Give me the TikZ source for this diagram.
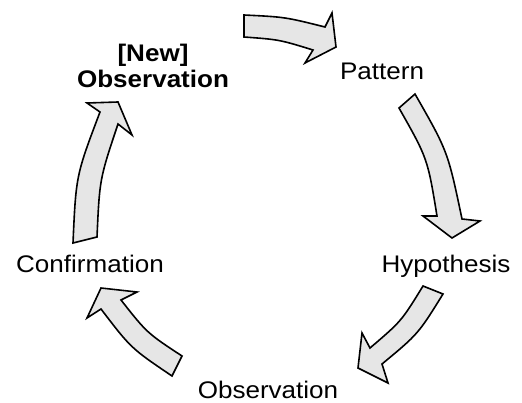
\documentclass[tikz,border=0pt]{standalone}
\usepackage{fontspec}
\usepackage{graphicx}
\setmainfont{Liberation Sans}
\definecolor{arrowfill}{HTML}{E6E6E6}
\newcommand{\widetext}[1]{\scalebox{1.085}[1]{#1}}
\begin{document}
\begin{tikzpicture}[x=1pt,y=-1pt,
  blockarrow/.style={draw=black, line width=1.6pt, fill=arrowfill, line join=miter},
  textlabel/.style={inner sep=0pt, anchor=base, font=\fontsize{24}{26}\selectfont}]
\useasboundingbox (0,0) rectangle (522,403);

% stage labels
\node[textlabel] (pattern) at (382,80) {\widetext{Pattern}};
\node[textlabel] (hypothesis) at (446,273) {\widetext{Hypothesis}};
\node[textlabel] (observation) at (268,398) {\widetext{Observation}};
\node[textlabel] (confirmation) at (90,273) {\widetext{Confirmation}};
\node[textlabel, font=\fontsize{24}{26}\selectfont\bfseries, align=center] (newobs) at (153,88)
  {\widetext{[New]}\\\widetext{Observation}};

% curved block arrows, clockwise round the cycle
\draw[blockarrow] (244,15) .. controls (285,17) .. (325,27) -- (332,13) -- (336,47)
  -- (305,63) -- (313,50) .. controls (279.2,39.6) .. (244,37) -- cycle;
\draw[blockarrow] (415,94) .. controls (447.8,151.4) .. (462,219) -- (480,221) -- (452,238)
  -- (423,216) -- (437,216) .. controls (427.6,158.5) .. (399,108) -- cycle;
\draw[blockarrow] (443,294) .. controls (418.2,334) .. (382,364) -- (388,383) -- (358,368)
  -- (362,333) -- (370,348) .. controls (401.4,321.2) .. (423,286) -- cycle;
\draw[blockarrow] (172,376) .. controls (131,348.3) .. (101,309) -- (87,318) -- (101,288)
  -- (137,292) -- (121,300) .. controls (147,333) .. (182,356) -- cycle;
\draw[blockarrow] (73,243) .. controls (76,175.4) .. (100,112) -- (87,103) -- (118,102)
  -- (132,135) -- (118,124) .. controls (99.6,179) .. (97,237) -- cycle;
\end{tikzpicture}
\end{document}
